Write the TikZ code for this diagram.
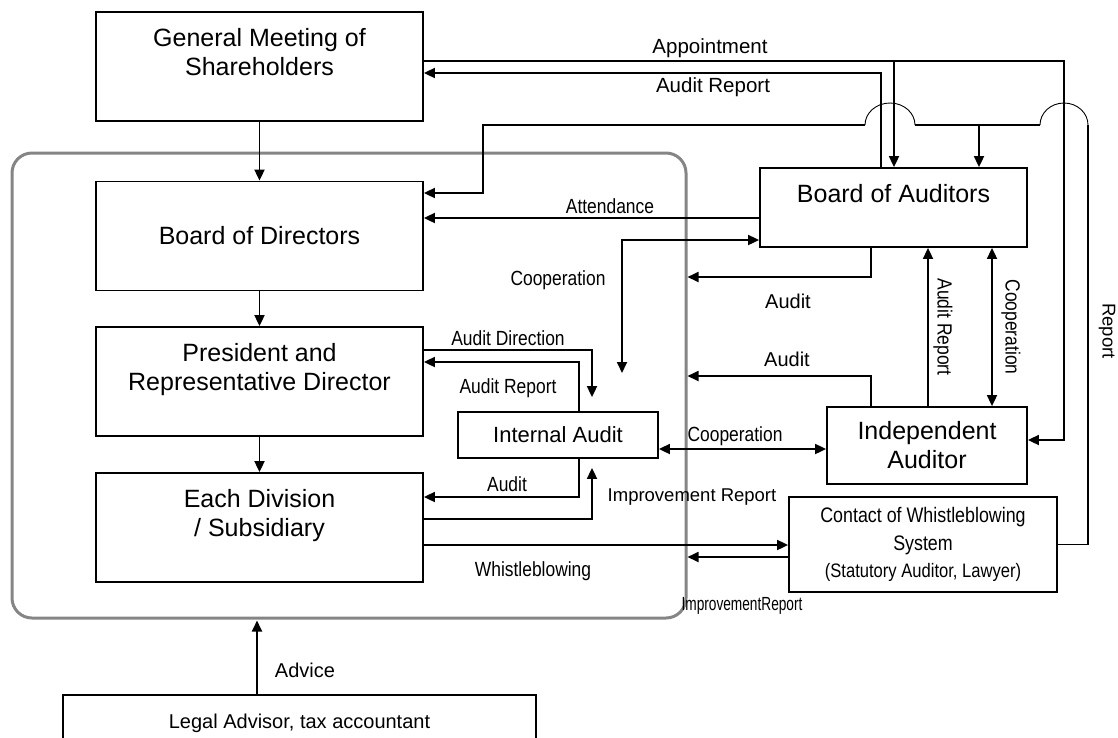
\documentclass[tikz,border=0pt]{standalone}
\usepackage{fontspec}
\setmainfont{Liberation Sans}
\newfontfamily\condsf[FakeStretch=0.85]{Liberation Sans}
\newfontfamily\tightsf[FakeStretch=0.72]{Liberation Sans}
\usetikzlibrary{arrows.meta}

\tikzset{
	>={Triangle[length=11pt,width=10pt]},
	orgbox/.style={draw, line width=1.8pt, minimum width=327pt, minimum height=109pt, inner sep=0pt, align=center, font=\fontsize{25}{29}\selectfont},
	corpbox/.style={draw=black!48, line width=3pt, rounded corners=20pt, minimum width=674pt, minimum height=465pt, inner sep=0pt},
	lbl/.style={inner sep=0pt, font=\fontsize{20.5}{24}\selectfont},
	clbl/.style={inner sep=0pt, font=\condsf\fontsize{20.5}{24}\selectfont},
}

\begin{document}
\begin{tikzpicture}[x=1pt,y=-1pt,line width=1.8pt]
	\clip (0,0) rectangle (1118,737);
	\node[corpbox] (corp) at (349,385.5) {};

	\node[orgbox] (gms) at (259.5,66.5) {General Meeting of\\Shareholders\\\mbox{}};
	\node[orgbox] (bod) at (259.5,236) {Board of Directors};
	\node[orgbox] (prd) at (259.5,381.5) {President and\\Representative Director\\\mbox{}};
	\node[orgbox] (eds) at (259.5,527.5) {Each Division\\/ Subsidiary\\\mbox{}};
	\node[orgbox, minimum width=267pt, minimum height=79pt] (boa) at (893.5,207.5) {Board of Auditors\\\mbox{}};
	\node[orgbox, minimum width=200pt, minimum height=46pt, font=\fontsize{22}{26}\selectfont] (ia) at (558,435) {Internal Audit};
	\node[orgbox, minimum width=200pt, minimum height=77pt] (inda) at (927,445.5) {Independent\\Auditor};
	\node[orgbox, minimum width=268pt, minimum height=95pt, font=\condsf\fontsize{21}{27.5}\selectfont] (cws) at (923,544.5) {Contact of Whistleblowing\\System\\{\fontsize{19.5}{27.5}\selectfont(Statutory Auditor, Lawyer)}};
	\node[orgbox, minimum width=473pt, minimum height=57pt, font=\fontsize{20}{24}\selectfont] (lad) at (299.5,723.5) {Legal Advisor, tax accountant};

	\draw[->] (gms) -- (bod);
	\draw[->] (bod) -- (prd);
	\draw[->] (prd) -- (eds);

	% appointment and audit report
	\coordinate (appR) at (1064,61);
	\coordinate (appB) at (894,61);
	\draw[->] (gms.east |- appR) -- (appR) |- (inda.east |- 0,440);
	\draw[->] (appB) -- (appB |- boa.north);
	\coordinate (arT) at (881,73);
	\draw[->] (arT |- boa.north) -- (arT) -- (arT -| gms.east);

	% report from whistleblowing contact, with hops
	\coordinate (repR) at (1088,125);
	\coordinate (repL) at (483,125);
	\coordinate (repB) at (979,125);
	\draw (cws.east) -| (repR);
	\draw[line width=0.9pt] (repR) arc[start angle=0,end angle=180,x radius=24pt,y radius=22pt] coordinate (hopA);
	\draw (hopA) -- (915,125);
	\draw[line width=0.9pt] (915,125) arc[start angle=0,end angle=180,x radius=25pt,y radius=22pt] coordinate (hopB);
	\draw[->] (hopB) -- (repL) |- (bod.east |- 0,193);
	\draw[->] (repB) -- (repB |- boa.north);

	\draw[->] (boa.west |- 0,218) -- (bod.east |- 0,218);
	\coordinate (coopE) at (622,373);
	\draw[<->] (coopE) |- (boa.west |- 0,240);
	\draw[->] (boa.south -| 871,0) |- (corp.east |- 0,277);
	\draw[->] (inda.north -| 871,0) |- (corp.east |- 0,376);
	\draw[->] (inda.north -| 928,0) -- (boa.south -| 928,0);
	\draw[<->] (boa.south -| 992,0) -- (inda.north -| 992,0);

	% internal audit
	\draw[->, shorten >=14pt] (prd.east |- 0,350) -| (ia.north -| 592,0);
	\draw[->] (ia.north -| 579,0) |- (prd.east |- 0,362);
	\draw[->] (ia.south -| 579,0) |- (eds.east |- 0,497);
	\draw[->, shorten >=9pt] (eds.east |- 0,519) -| (ia.south -| 592,0);
	\draw[<->] (ia.east |- 0,449) -- (inda.west |- 0,449);

	\draw[->] (eds.east |- 0,545) -- (cws.west |- 0,545);
	\draw[->] (cws.west |- 0,557) -- (corp.east |- 0,557);
	\draw[->, shorten >=1pt] (lad.north -| 257,0) -- (corp.south -| 257,0);

	% labels
	\node[lbl] (l-app) at (710,48) {Appointment};
	\node[lbl] (l-arep) at (713,87) {Audit Report};
	\node[clbl] (l-att) at (610,206) {Attendance};
	\node[clbl] (l-coop1) at (558,280) {Cooperation};
	\node[lbl, font=\fontsize{20}{24}\selectfont] (l-aud1) at (788,301) {Audit};
	\node[lbl, font=\fontsize{20}{24}\selectfont] (l-aud2) at (787,359) {Audit};
	\node[clbl] (l-adir) at (508,338) {Audit Direction};
	\node[clbl] (l-arep2) at (508,388) {Audit Report};
	\node[clbl] (l-coop2) at (735,436) {Cooperation};
	\node[clbl] (l-aud3) at (507,484) {Audit};
	\node[lbl, font=\fontsize{18.5}{22}\selectfont] (l-imp1) at (692,497) {Improvement Report};
	\node[clbl] (l-wb) at (533,571) {Whistleblowing};
	\node[lbl, font=\tightsf\fontsize{19}{22}\selectfont] (l-imp2) at (742,606) {ImprovementReport};
	\node[lbl, font=\fontsize{20}{24}\selectfont] (l-adv) at (305,670) {Advice};
	\node[clbl, rotate=-90] (l-arep3) at (943,327) {Audit Report};
	\node[clbl, rotate=-90] (l-coop3) at (1011,327) {Cooperation};
	\node[lbl, font=\fontsize{18.5}{22}\selectfont, rotate=-90] (l-rep) at (1107,331) {Report};
\end{tikzpicture}
\end{document}
